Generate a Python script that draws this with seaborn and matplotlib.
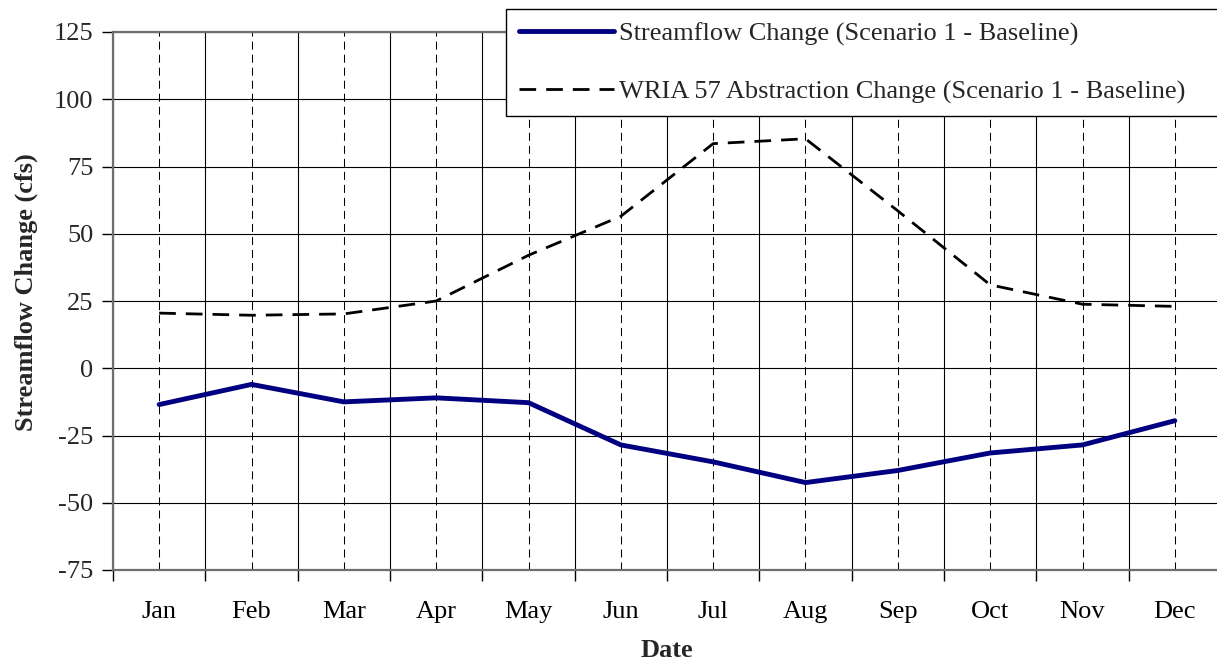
import matplotlib
matplotlib.use("Agg")
import matplotlib.pyplot as plt
import seaborn as sns
import pandas as pd
import numpy as np
from matplotlib.ticker import FixedLocator

# Monthly values (cfs)
months = ["Jan", "Feb", "Mar", "Apr", "May", "Jun",
          "Jul", "Aug", "Sep", "Oct", "Nov", "Dec"]
streamflow_change = [-13.5, -6.0, -12.5, -11.0, -12.8, -28.5,
                     -34.8, -42.5, -38.0, -31.5, -28.5, -19.5]
abstraction_change = [20.5, 19.7, 20.2, 25.0, 42.0, 56.5,
                      83.5, 85.3, 58.5, 31.0, 23.8, 23.0]
y_ticks = [-75, -50, -25, 0, 25, 50, 75, 100, 125]

label_flow = "Streamflow Change (Scenario 1 - Baseline)"
label_abs = "WRIA 57 Abstraction Change (Scenario 1 - Baseline)"

df = pd.DataFrame({
    "Date": months,
    "flow": streamflow_change,
    "abstraction": abstraction_change,
})

sns.set_theme(style="white")
plt.rcParams["font.family"] = ["Liberation Serif", "DejaVu Serif"]

FS = 19
W, H = 1217, 662
fig = plt.figure(figsize=(W / 100, H / 100), dpi=100)
left, right, top, bottom = 113, 1221, 32, 570
ax = fig.add_axes([left / W, 1 - bottom / H, (right - left) / W, (bottom - top) / H])

ABS_DASH = (6.0, 3.6)
sns.lineplot(data=df, x="Date", y="flow", ax=ax, color="#000080",
             linewidth=3.5, label=label_flow, sort=False, zorder=4)
sns.lineplot(data=df, x="Date", y="abstraction", ax=ax, color="black",
             linewidth=2.0, label=label_abs, sort=False, zorder=4)
ax.lines[1].set_dashes(ABS_DASH)

ax.set_xlim(-0.5, len(months) - 0.5)
ax.set_ylim(-75, 125)
ax.set_yticks(y_ticks)
ax.set_yticklabels([str(v) for v in y_ticks])

# Month labels at category centres, boundary ticks between them
pos = np.arange(len(months))
ax.set_xticks(pos)
ax.set_xticklabels(months)
ax.xaxis.set_minor_locator(FixedLocator(np.arange(-0.5, len(months), 1.0)))
ax.tick_params(axis="x", which="major", length=0, pad=22, labelsize=FS, colors="black")
ax.tick_params(axis="x", which="minor", length=8, width=1, color="black", direction="out",
               bottom=True)
ax.tick_params(axis="y", which="major", length=8, width=1, color="black", direction="out",
               pad=6, labelsize=FS, left=True)

# Grid: dashed at month centres, solid at boundaries and y ticks
ax.set_axisbelow(True)
ax.grid(False)
ax.grid(which="major", axis="x", color="black", linewidth=0.75, linestyle=(0, (7.7, 4.8)))
ax.grid(which="minor", axis="x", color="black", linewidth=0.8, linestyle="-")
ax.grid(which="major", axis="y", color="black", linewidth=0.8, linestyle="-")

for side in ["left", "top", "bottom"]:
    ax.spines[side].set_visible(True)
    ax.spines[side].set_color("#6e6e6e")
    ax.spines[side].set_linewidth(1.6)
ax.spines["right"].set_visible(False)

ax.set_xlabel("Date", fontsize=FS, fontweight="bold", labelpad=12)
ax.set_ylabel("Streamflow Change (cfs)", fontsize=FS, fontweight="bold")
ax.yaxis.set_label_coords(-0.068, 0.517)

leg = ax.legend(loc="upper left",
                bbox_to_anchor=(506 / W, 0, (1230 - 506) / W, 1 - 9 / H),
                bbox_transform=fig.transFigure, borderaxespad=0, mode="expand",
                fontsize=FS, frameon=True, fancybox=False, shadow=False,
                framealpha=1, edgecolor="black", handlelength=3.6,
                handletextpad=0.2, borderpad=0.48, labelspacing=1.3)
leg.get_frame().set_linewidth(1.0)
leg.set_zorder(10)
leg.legend_handles[1].set_dashes(ABS_DASH)

fig.savefig("out.png", dpi=100)
